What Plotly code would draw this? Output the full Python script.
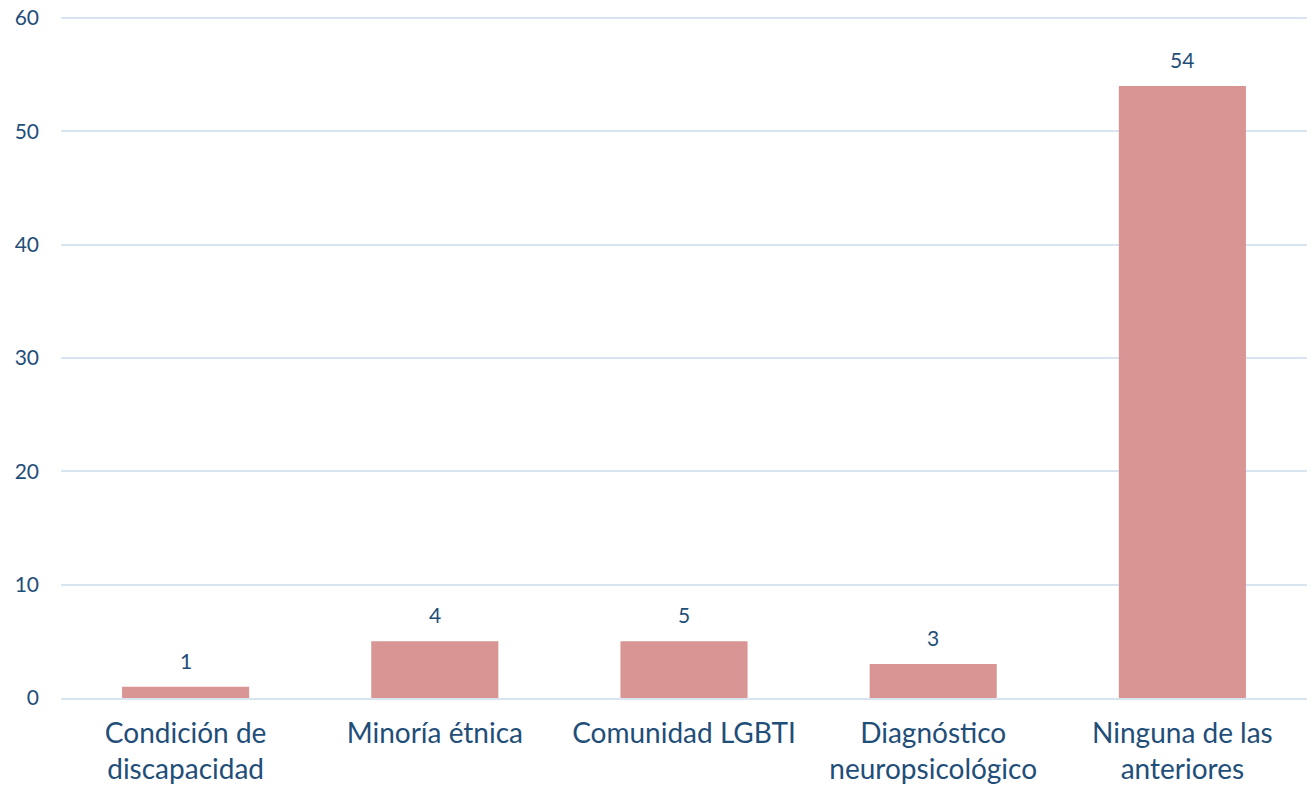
import plotly.graph_objects as go

categories = ["Condición de<br>discapacidad", "Minoría étnica", "Comunidad LGBTI",
              "Diagnóstico<br>neuropsicológico", "Ninguna de las<br>anteriores"]
bar_values = [1, 5, 5, 3, 54]
label_values = [1, 4, 5, 3, 54]
y_ticks = [0, 10, 20, 30, 40, 50, 60]

text_color = "#1F4E79"
fig = go.Figure()
fig.add_trace(go.Bar(x=categories, y=bar_values, marker=dict(color="#D99594", line=dict(width=0)),
                     hoverinfo="skip"))
for c, v, l in zip(categories, bar_values, label_values):
    fig.add_annotation(x=c, y=v, text=str(l), showarrow=False, yanchor="bottom", yshift=12,
                       font=dict(family="Lato", size=21, color=text_color))

fig.update_layout(
    width=1299, height=779,
    margin=dict(l=53, r=0, t=9, b=89, autoexpand=False),
    plot_bgcolor="white", paper_bgcolor="white",
    bargap=0.49, showlegend=False,
    font=dict(family="Lato", color=text_color),
)
fig.update_yaxes(range=[0, 60.1], tickvals=y_ticks, showgrid=True, gridcolor="#D9E4F1", gridwidth=2,
                 zeroline=False, showline=False, ticks="", ticklabelstandoff=21, automargin=False,
                 ticklabeloverflow="allow",
                 tickfont=dict(family="Lato", size=21, color=text_color))
fig.update_xaxes(showline=True, linecolor="#D9E4F1", linewidth=2, ticks="", automargin=False,
                 ticklabelstandoff=9, ticklabeloverflow="allow",
                 tickfont=dict(family="Lato", size=28, color=text_color))

fig.write_html("out.html")
